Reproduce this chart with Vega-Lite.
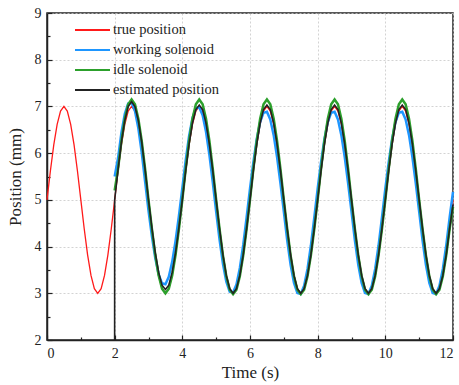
{
  "$schema": "https://vega.github.io/schema/vega-lite/v6.json",
  "width": 406,
  "height": 327,
  "autosize": "none",
  "padding": {"left": 47, "top": 13, "right": 6, "bottom": 45},
  "background": "white",
  "config": {
    "font": "Liberation Serif, Times New Roman, serif",
    "view": {"stroke": "#222", "strokeWidth": 1.5},
    "axis": {
      "labelFont": "Liberation Serif, Times New Roman, serif", "labelFontSize": 14, "labelColor": "#222",
      "titleFont": "Liberation Serif, Times New Roman, serif", "titleFontSize": 17, "titleFontWeight": "normal", "titleColor": "#222",
      "domainColor": "#222", "domainWidth": 1.5, "tickColor": "#222", "tickWidth": 1.2,
      "gridColor": "#c8c8c8", "gridDash": [2, 2], "gridWidth": 0.8, "labelPadding": 11, "grid": true
    },
    "axisY": {"titlePadding": 10},
    "legend": {
      "orient": "none", "legendX": 27, "legendY": 10, "padding": 0,
      "symbolType": "stroke", "symbolSize": 1225, "symbolStrokeWidth": 2,
      "labelFont": "Liberation Serif, Times New Roman, serif", "labelFontSize": 14.5, "labelColor": "#222",
      "rowPadding": 5, "labelOffset": 2, "clipHeight": 14
    }
  },
  "data": {"values": [
    {"t":0,"truePos":5},{"t":0.1,"truePos":5.618},{"t":0.2,"truePos":6.176},{"t":0.3,"truePos":6.618},{"t":0.4,"truePos":6.902},
    {"t":0.5,"truePos":7},{"t":0.6,"truePos":6.902},{"t":0.7,"truePos":6.618},{"t":0.8,"truePos":6.176},{"t":0.9,"truePos":5.618},
    {"t":1,"truePos":5},{"t":1.1,"truePos":4.382},{"t":1.2,"truePos":3.824},{"t":1.3,"truePos":3.382},{"t":1.4,"truePos":3.098},
    {"t":1.5,"truePos":3},{"t":1.6,"truePos":3.098},{"t":1.7,"truePos":3.382},{"t":1.8,"truePos":3.824},{"t":1.9,"truePos":4.382},
    {"t":1.999,"truePos":4.994,"estimated":2},
    {"t":2,"truePos":5,"working":5.5,"idle":5.2,"estimated":5},
    {"t":2.1,"truePos":5.618,"working":5.895,"idle":5.664,"estimated":5.649},
    {"t":2.2,"truePos":6.176,"working":6.439,"idle":6.264,"estimated":6.235},
    {"t":2.3,"truePos":6.618,"working":6.84,"idle":6.739,"estimated":6.699},
    {"t":2.4,"truePos":6.902,"working":7.062,"idle":7.045,"estimated":6.997},
    {"t":2.5,"truePos":7,"working":7.083,"idle":7.15,"estimated":7.1},
    {"t":2.6,"truePos":6.902,"working":6.901,"idle":7.045,"estimated":6.997},
    {"t":2.7,"truePos":6.618,"working":6.531,"idle":6.739,"estimated":6.699},
    {"t":2.8,"truePos":6.176,"working":6.012,"idle":6.264,"estimated":6.235},
    {"t":2.9,"truePos":5.618,"working":5.393,"idle":5.664,"estimated":5.649},
    {"t":3,"truePos":5,"working":4.772,"idle":5,"estimated":5},
    {"t":3.1,"truePos":4.382,"working":4.225,"idle":4.382,"estimated":4.407},
    {"t":3.2,"truePos":3.824,"working":3.753,"idle":3.824,"estimated":3.871},
    {"t":3.3,"truePos":3.382,"working":3.406,"idle":3.382,"estimated":3.447},
    {"t":3.4,"truePos":3.098,"working":3.213,"idle":3.098,"estimated":3.174},
    {"t":3.5,"truePos":3,"working":3.195,"idle":3,"estimated":3.08},
    {"t":3.6,"truePos":3.098,"working":3.353,"idle":3.098,"estimated":3.174},
    {"t":3.7,"truePos":3.382,"working":3.673,"idle":3.382,"estimated":3.447},
    {"t":3.8,"truePos":3.824,"working":4.123,"idle":3.824,"estimated":3.871},
    {"t":3.9,"truePos":4.382,"working":4.66,"idle":4.382,"estimated":4.407},
    {"t":4,"truePos":5,"working":5.25,"idle":5,"estimated":5},
    {"t":4.1,"truePos":5.618,"working":5.852,"idle":5.664,"estimated":5.627},
    {"t":4.2,"truePos":6.176,"working":6.37,"idle":6.264,"estimated":6.194},
    {"t":4.3,"truePos":6.618,"working":6.752,"idle":6.739,"estimated":6.642},
    {"t":4.4,"truePos":6.902,"working":6.964,"idle":7.045,"estimated":6.931},
    {"t":4.5,"truePos":7,"working":6.984,"idle":7.15,"estimated":7.03},
    {"t":4.6,"truePos":6.902,"working":6.81,"idle":7.045,"estimated":6.931},
    {"t":4.7,"truePos":6.618,"working":6.458,"idle":6.739,"estimated":6.642},
    {"t":4.8,"truePos":6.176,"working":5.964,"idle":6.264,"estimated":6.194},
    {"t":4.9,"truePos":5.618,"working":5.374,"idle":5.664,"estimated":5.627},
    {"t":5,"truePos":5,"working":4.75,"idle":5,"estimated":5},
    {"t":5.1,"truePos":4.382,"working":4.148,"idle":4.376,"estimated":4.382},
    {"t":5.2,"truePos":3.824,"working":3.63,"idle":3.812,"estimated":3.824},
    {"t":5.3,"truePos":3.382,"working":3.248,"idle":3.366,"estimated":3.382},
    {"t":5.4,"truePos":3.098,"working":3.036,"idle":3.079,"estimated":3.098},
    {"t":5.5,"truePos":3,"working":3.016,"idle":2.98,"estimated":3},
    {"t":5.6,"truePos":3.098,"working":3.19,"idle":3.079,"estimated":3.098},
    {"t":5.7,"truePos":3.382,"working":3.542,"idle":3.366,"estimated":3.382},
    {"t":5.8,"truePos":3.824,"working":4.036,"idle":3.812,"estimated":3.824},
    {"t":5.9,"truePos":4.382,"working":4.626,"idle":4.376,"estimated":4.382},
    {"t":6,"truePos":5,"working":5.238,"idle":5,"estimated":5},
    {"t":6.1,"truePos":5.618,"working":5.809,"idle":5.664,"estimated":5.627},
    {"t":6.2,"truePos":6.176,"working":6.302,"idle":6.264,"estimated":6.194},
    {"t":6.3,"truePos":6.618,"working":6.664,"idle":6.739,"estimated":6.642},
    {"t":6.4,"truePos":6.902,"working":6.866,"idle":7.045,"estimated":6.931},
    {"t":6.5,"truePos":7,"working":6.885,"idle":7.15,"estimated":7.03},
    {"t":6.6,"truePos":6.902,"working":6.72,"idle":7.045,"estimated":6.931},
    {"t":6.7,"truePos":6.618,"working":6.385,"idle":6.739,"estimated":6.642},
    {"t":6.8,"truePos":6.176,"working":5.916,"idle":6.264,"estimated":6.194},
    {"t":6.9,"truePos":5.618,"working":5.355,"idle":5.664,"estimated":5.627},
    {"t":7,"truePos":5,"working":4.746,"idle":5,"estimated":5},
    {"t":7.1,"truePos":4.382,"working":4.135,"idle":4.376,"estimated":4.382},
    {"t":7.2,"truePos":3.824,"working":3.609,"idle":3.812,"estimated":3.824},
    {"t":7.3,"truePos":3.382,"working":3.222,"idle":3.366,"estimated":3.382},
    {"t":7.4,"truePos":3.098,"working":3.007,"idle":3.079,"estimated":3.098},
    {"t":7.5,"truePos":3,"working":2.986,"idle":2.98,"estimated":3},
    {"t":7.6,"truePos":3.098,"working":3.163,"idle":3.079,"estimated":3.098},
    {"t":7.7,"truePos":3.382,"working":3.52,"idle":3.366,"estimated":3.382},
    {"t":7.8,"truePos":3.824,"working":4.022,"idle":3.812,"estimated":3.824},
    {"t":7.9,"truePos":4.382,"working":4.62,"idle":4.376,"estimated":4.382},
    {"t":8,"truePos":5,"working":5.238,"idle":5,"estimated":5},
    {"t":8.1,"truePos":5.618,"working":5.809,"idle":5.664,"estimated":5.627},
    {"t":8.2,"truePos":6.176,"working":6.302,"idle":6.264,"estimated":6.194},
    {"t":8.3,"truePos":6.618,"working":6.664,"idle":6.739,"estimated":6.642},
    {"t":8.4,"truePos":6.902,"working":6.866,"idle":7.045,"estimated":6.931},
    {"t":8.5,"truePos":7,"working":6.885,"idle":7.15,"estimated":7.03},
    {"t":8.6,"truePos":6.902,"working":6.72,"idle":7.045,"estimated":6.931},
    {"t":8.7,"truePos":6.618,"working":6.385,"idle":6.739,"estimated":6.642},
    {"t":8.8,"truePos":6.176,"working":5.916,"idle":6.264,"estimated":6.194},
    {"t":8.9,"truePos":5.618,"working":5.355,"idle":5.664,"estimated":5.627},
    {"t":9,"truePos":5,"working":4.746,"idle":5,"estimated":5},
    {"t":9.1,"truePos":4.382,"working":4.135,"idle":4.376,"estimated":4.382},
    {"t":9.2,"truePos":3.824,"working":3.609,"idle":3.812,"estimated":3.824},
    {"t":9.3,"truePos":3.382,"working":3.222,"idle":3.366,"estimated":3.382},
    {"t":9.4,"truePos":3.098,"working":3.007,"idle":3.079,"estimated":3.098},
    {"t":9.5,"truePos":3,"working":2.986,"idle":2.98,"estimated":3},
    {"t":9.6,"truePos":3.098,"working":3.163,"idle":3.079,"estimated":3.098},
    {"t":9.7,"truePos":3.382,"working":3.52,"idle":3.366,"estimated":3.382},
    {"t":9.8,"truePos":3.824,"working":4.022,"idle":3.812,"estimated":3.824},
    {"t":9.9,"truePos":4.382,"working":4.62,"idle":4.376,"estimated":4.382},
    {"t":10,"truePos":5,"working":5.238,"idle":5,"estimated":5},
    {"t":10.1,"truePos":5.618,"working":5.809,"idle":5.664,"estimated":5.627},
    {"t":10.2,"truePos":6.176,"working":6.302,"idle":6.264,"estimated":6.194},
    {"t":10.3,"truePos":6.618,"working":6.664,"idle":6.739,"estimated":6.642},
    {"t":10.4,"truePos":6.902,"working":6.866,"idle":7.045,"estimated":6.931},
    {"t":10.5,"truePos":7,"working":6.885,"idle":7.15,"estimated":7.03},
    {"t":10.6,"truePos":6.902,"working":6.72,"idle":7.045,"estimated":6.931},
    {"t":10.7,"truePos":6.618,"working":6.385,"idle":6.739,"estimated":6.642},
    {"t":10.8,"truePos":6.176,"working":5.916,"idle":6.264,"estimated":6.194},
    {"t":10.9,"truePos":5.618,"working":5.355,"idle":5.664,"estimated":5.627},
    {"t":11,"truePos":5,"working":4.746,"idle":5,"estimated":5},
    {"t":11.1,"truePos":4.382,"working":4.135,"idle":4.376,"estimated":4.382},
    {"t":11.2,"truePos":3.824,"working":3.609,"idle":3.812,"estimated":3.824},
    {"t":11.3,"truePos":3.382,"working":3.222,"idle":3.366,"estimated":3.382},
    {"t":11.4,"truePos":3.098,"working":3.007,"idle":3.079,"estimated":3.098},
    {"t":11.5,"truePos":3,"working":2.986,"idle":2.98,"estimated":3},
    {"t":11.6,"truePos":3.098,"working":3.163,"idle":3.079,"estimated":3.098},
    {"t":11.7,"truePos":3.382,"working":3.52,"idle":3.366,"estimated":3.382},
    {"t":11.8,"truePos":3.824,"working":4.022,"idle":3.812,"estimated":3.824},
    {"t":11.9,"truePos":4.382,"working":4.62,"idle":4.376,"estimated":4.382},
    {"t":12,"truePos":5,"working":5.17,"idle":4.85,"estimated":4.9}
  ]},
  "encoding": {
    "x": {
      "field": "t", "type": "quantitative", "scale": {"domain": [0, 12], "nice": false},
      "axis": {
        "title": "Time (s)",
        "values": [0,1,2,3,4,5,6,7,8,9,10,11,12],
        "labelExpr": "datum.value % 2 === 0 ? format(datum.value, 'd') : ''",
        "tickSize": {"condition": {"test": "datum.value % 2 === 0", "value": -5}, "value": -3},
        "gridOpacity": {"condition": {"test": "datum.value % 2 === 0", "value": 1}, "value": 0}
      }
    }
  },
  "layer": [
    {
      "mark": {"type": "line", "strokeWidth": 1.3},
      "encoding": {
        "y": {"field": "truePos", "type": "quantitative", "scale": {"domain": [2, 9], "nice": false},
          "axis": {"title": "Position (mm)", "values": [2,2.5,3,3.5,4,4.5,5,5.5,6,6.5,7,7.5,8,8.5,9],
            "labelExpr": "datum.value % 1 === 0 ? format(datum.value, 'd') : ''",
            "tickSize": {"condition": {"test": "datum.value % 1 === 0", "value": -5}, "value": -3},
            "gridOpacity": {"condition": {"test": "datum.value % 1 === 0", "value": 1}, "value": 0}}},
        "color": {"datum": "true position", "type": "nominal",
          "scale": {"domain": ["true position", "working solenoid", "idle solenoid", "estimated position"],
                    "range": ["#ff1a1a", "#1e96ff", "#2ca02c", "#222222"]},
          "legend": {"title": null}}
      }
    },
    {
      "mark": {"type": "line", "strokeWidth": 2.5},
      "encoding": {
        "y": {"field": "working", "type": "quantitative", "scale": {"domain": [2, 9], "nice": false},
          "axis": {"title": "Position (mm)", "values": [2,2.5,3,3.5,4,4.5,5,5.5,6,6.5,7,7.5,8,8.5,9],
            "labelExpr": "datum.value % 1 === 0 ? format(datum.value, 'd') : ''",
            "tickSize": {"condition": {"test": "datum.value % 1 === 0", "value": -5}, "value": -3},
            "gridOpacity": {"condition": {"test": "datum.value % 1 === 0", "value": 1}, "value": 0}}},
        "color": {"datum": "working solenoid", "type": "nominal"}
      }
    },
    {
      "mark": {"type": "line", "strokeWidth": 2.5},
      "encoding": {
        "y": {"field": "idle", "type": "quantitative", "scale": {"domain": [2, 9], "nice": false},
          "axis": {"title": "Position (mm)", "values": [2,2.5,3,3.5,4,4.5,5,5.5,6,6.5,7,7.5,8,8.5,9],
            "labelExpr": "datum.value % 1 === 0 ? format(datum.value, 'd') : ''",
            "tickSize": {"condition": {"test": "datum.value % 1 === 0", "value": -5}, "value": -3},
            "gridOpacity": {"condition": {"test": "datum.value % 1 === 0", "value": 1}, "value": 0}}},
        "color": {"datum": "idle solenoid", "type": "nominal"}
      }
    },
    {
      "mark": {"type": "line", "strokeWidth": 1.6},
      "encoding": {
        "y": {"field": "estimated", "type": "quantitative", "scale": {"domain": [2, 9], "nice": false},
          "axis": {"title": "Position (mm)", "values": [2,2.5,3,3.5,4,4.5,5,5.5,6,6.5,7,7.5,8,8.5,9],
            "labelExpr": "datum.value % 1 === 0 ? format(datum.value, 'd') : ''",
            "tickSize": {"condition": {"test": "datum.value % 1 === 0", "value": -5}, "value": -3},
            "gridOpacity": {"condition": {"test": "datum.value % 1 === 0", "value": 1}, "value": 0}}},
        "color": {"datum": "estimated position", "type": "nominal"}
      }
    }
  ]
}
